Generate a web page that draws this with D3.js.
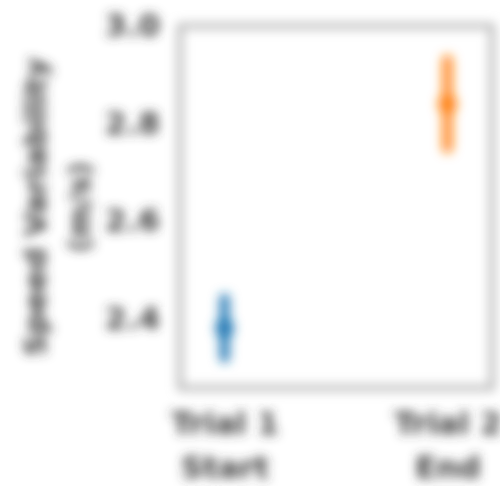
<!DOCTYPE html>
<html><head><meta charset="utf-8">
<script src="https://cdn.jsdelivr.net/npm/d3@7"></script>
<style>html,body{margin:0;padding:0;background:#fff;}</style>
</head><body>
<svg id="chart" width="500" height="486"></svg>
<script>
const categories = ["Trial 1\nStart", "Trial 2\nEnd"];
const means = [2.38, 2.84];
const lows = [2.32, 2.75];
const highs = [2.44, 2.93];
const colors = ["#1f77b4", "#ff7f0e"];
const yTicks = [2.4, 2.6, 2.8, 3.0];
const yLabelLines = ["Speed Variability", "(m/s)"];

const W = 500, H = 486;
const m = {left: 180, right: 8, top: 26, bottom: 98};
const svg = d3.select("#chart");
const defs = svg.append("defs");
defs.append("filter").attr("id", "blur").attr("x", "-20%").attr("y", "-20%").attr("width", "140%").attr("height", "140%")
  .append("feGaussianBlur").attr("stdDeviation", 5.5);
svg.append("rect").attr("width", W).attr("height", H).attr("fill", "#fff");
const g = svg.append("g").attr("filter", "url(#blur)");

const x = d3.scalePoint().domain(categories).range([m.left, W - m.right]).padding(0.2);
const y = d3.scaleLinear().domain([2.257, 3.0]).range([H - m.bottom, m.top]);

const textColor = "#3a3a3a";

// frame
g.append("rect").attr("x", m.left).attr("y", m.top)
  .attr("width", W - m.right - m.left).attr("height", H - m.bottom - m.top)
  .attr("fill", "none").attr("stroke", "#aaa").attr("stroke-width", 5);

// y axis
const yAxis = d3.axisLeft(y).tickValues(yTicks).tickFormat(d3.format(".1f")).tickSize(0).tickPadding(20);
const ya = g.append("g").attr("transform", `translate(${m.left},0)`).call(yAxis);
ya.select(".domain").remove();
ya.selectAll("text").attr("font-family", "DejaVu Sans").attr("font-size", 31)
  .attr("font-weight", "bold").attr("fill", textColor);

// x axis
const xAxis = d3.axisBottom(x).tickSize(0).tickFormat(() => "");
const xa = g.append("g").attr("transform", `translate(0,${H - m.bottom})`).call(xAxis);
xa.select(".domain").remove();
xa.selectAll(".tick").each(function(d) {
  const t = d3.select(this).append("text").attr("text-anchor", "middle")
    .attr("font-family", "DejaVu Sans").attr("font-size", 31).attr("font-weight", "bold").attr("fill", textColor);
  d.split("\n").forEach((line, i) => {
    t.append("tspan").attr("x", 0).attr("y", 46 + i * 44).text(line);
  });
});

// y label
const cy = (m.top + H - m.bottom) / 2;
yLabelLines.forEach((line, i) => {
  g.append("text").attr("transform", `translate(${46 + i * 44},${cy}) rotate(-90)`)
    .attr("text-anchor", "middle").attr("font-family", "DejaVu Sans").attr("font-size", 31)
    .attr("font-weight", "bold").attr("fill", textColor).text(line);
});

// marks
categories.forEach((c, i) => {
  g.append("line").attr("x1", x(c)).attr("x2", x(c)).attr("y1", y(lows[i])).attr("y2", y(highs[i]))
    .attr("stroke", colors[i]).attr("stroke-width", 11).attr("stroke-linecap", "round").attr("opacity", 0.85);
  g.append("circle").attr("cx", x(c)).attr("cy", y(means[i])).attr("r", 10).attr("fill", colors[i]).attr("opacity", 0.85);
});
</script>
</body></html>
